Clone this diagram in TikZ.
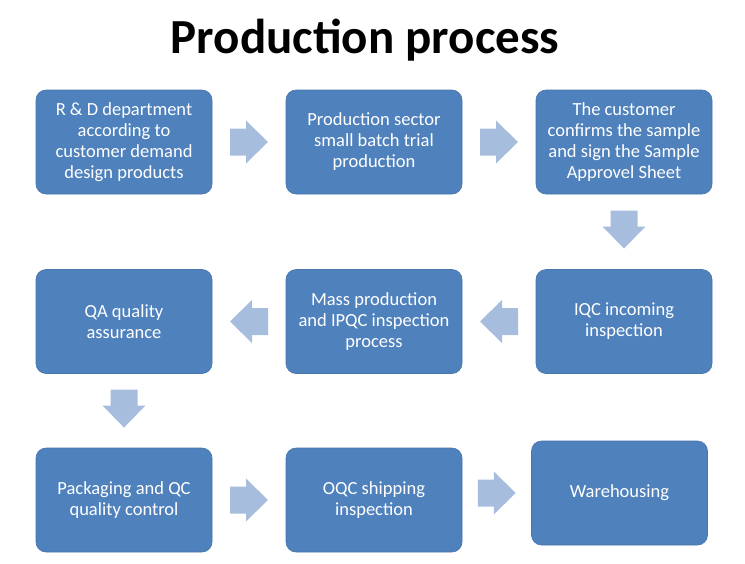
\documentclass[tikz,border=0pt]{standalone}
\usepackage{fontspec}
\setmainfont{Carlito}
\usetikzlibrary{calc}
\definecolor{boxblue}{HTML}{4F81BD}
\definecolor{arrowblue}{HTML}{A7BDDD}
\begin{document}
\begin{tikzpicture}[x=1pt,y=-1pt,
  procbox/.style={rectangle,rounded corners=10pt,fill=boxblue,draw=boxblue!90!black,line width=0.6pt,
    minimum width=176pt,minimum height=104pt,inner sep=0pt,align=center,text=white,
    font=\fontsize{18.5pt}{21pt}\selectfont},
  blockarrow/.style={fill=arrowblue,draw=none}]
\def\blockarrowpath{(-19,-13.5) -- (-3,-13.5) -- (-3,-21.5) -- (19,0) -- (-3,21.5) -- (-3,13.5) -- (-19,13.5) -- cycle}
\useasboundingbox (0,0) rectangle (745,563);
\node[font=\fontsize{49pt}{56pt}\selectfont\bfseries] (title) at (365,40) {Production process};
\node[procbox] (b1) at (124,142) {R \& D department\\according to\\customer demand\\design products};
\node[procbox] (b2) at (374,142) {Production sector\\small batch trial\\production};
\node[procbox] (b3) at (624,142) {The customer\\confirms the sample\\and sign the Sample\\Approvel Sheet};
\node[procbox] (b4) at (624,321.5) {IQC incoming\\inspection};
\node[procbox] (b5) at (374,321.5) {Mass production\\and IPQC inspection\\process};
\node[procbox] (b6) at (124,321.5) {QA quality\\assurance};
\node[procbox] (b7) at (124,500) {Packaging and QC\\quality control};
\node[procbox] (b8) at (374,500) {OQC shipping\\inspection};
\node[procbox] (b9) at (619.5,493) {Warehousing};
\coordinate (a12) at ($(b1.east)!0.5!(b2.west)$);
\coordinate (a23) at ($(b2.east)!0.5!(b3.west)$);
\coordinate (a34) at ($(b3.south)!0.47!(b4.north)$);
\coordinate (a45) at ($(b5.east)!0.5!(b4.west)$);
\coordinate (a56) at ($(b6.east)!0.5!(b5.west)$);
\coordinate (a67) at ($(b6.south)!0.47!(b7.north)$);
\coordinate (a78) at ($(b7.east)!0.5!(b8.west)$);
\coordinate (a89) at ($(b8.east |- b9.center)!0.5!(b9.west)$);
\fill[blockarrow,shift={(a12)}] \blockarrowpath;
\fill[blockarrow,shift={(a23)}] \blockarrowpath;
\fill[blockarrow,shift={(a34)},rotate=-90] \blockarrowpath;
\fill[blockarrow,shift={(a45)},rotate=180] \blockarrowpath;
\fill[blockarrow,shift={(a56)},rotate=180] \blockarrowpath;
\fill[blockarrow,shift={(a67)},rotate=-90] \blockarrowpath;
\fill[blockarrow,shift={(a78)}] \blockarrowpath;
\fill[blockarrow,shift={(a89)}] \blockarrowpath;
\end{tikzpicture}
\end{document}
